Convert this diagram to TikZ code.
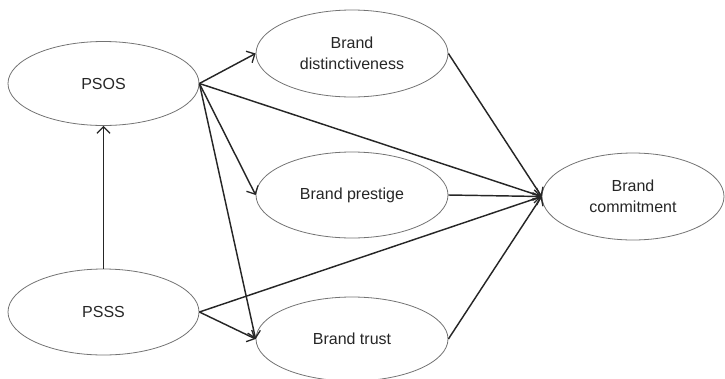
\documentclass[tikz,border=0pt]{standalone}
\usepackage{fontspec}
\setmainfont{Liberation Sans}
\usetikzlibrary{shapes.geometric,arrows.meta}
\begin{document}
\begin{tikzpicture}[x=1pt,y=-1pt,
  construct/.style={ellipse,draw=black!55,line width=0.8pt,inner sep=0pt,
    minimum width=192pt,minimum height=86pt,align=center,
    font=\fontsize{16}{20.5}\selectfont,text=black!85},
  path/.style={draw=black!85,line width=1.45pt,
    -{Straight Barb[length=6.5pt,width=13pt,line width=1.3pt]}}]
\useasboundingbox (0,0) rectangle (725,378);
% constructs
\node[construct,minimum width=191pt,minimum height=84pt] (psos) at (103.5,83.5) {PSOS};
\node[construct,minimum width=191pt,minimum height=86pt] (psss) at (103.5,312) {PSSS};
\node[construct,minimum height=87pt] (dist) at (352,53.5) {Brand\\distinctiveness};
\node[construct,minimum height=86pt] (prest) at (352,195) {Brand prestige};
\node[construct,minimum height=84pt] (trust) at (352,339) {Brand trust};
\node[construct,minimum width=182pt,minimum height=87pt] (comm) at (633,196.5) {Brand\\commitment};
% structural paths
\draw[path] (psss.north) -- (psos.south);
\draw[path] (psos.east) -- (dist.west);
\draw[path] (psos.east) -- (prest.west);
\draw[path] (psos.east) -- (trust.west);
\draw[path] (psos.east) -- (comm.west);
\draw[path] (psss.east) -- (trust.west);
\draw[path] (psss.east) -- (comm.west);
\draw[path] (dist.east) -- (comm.west);
\draw[path] (prest.east) -- (comm.west);
\draw[path] (trust.east) -- (comm.west);
\end{tikzpicture}
\end{document}
